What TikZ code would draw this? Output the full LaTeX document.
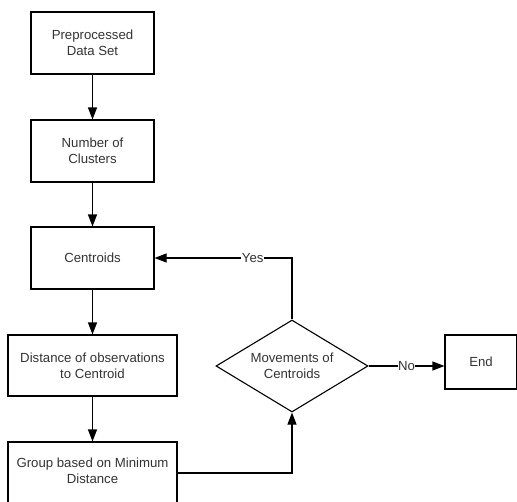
\documentclass[tikz,border=0pt]{standalone}
\usepackage{fontspec}
\setmainfont{Liberation Sans}
\usetikzlibrary{arrows.meta,shapes.geometric}
\definecolor{txt}{HTML}{333333}
\begin{document}
\begin{tikzpicture}[x=1pt,y=-1pt,
  stepbox/.style={draw=black,line width=1.1pt,rectangle,minimum width=123pt,minimum height=62pt,
    align=center,text=txt,font=\fontsize{13.2}{16}\selectfont,inner sep=0pt},
  widebox/.style={stepbox,minimum width=169pt,minimum height=61pt},
  decision/.style={draw=black,line width=1.1pt,diamond,minimum width=152pt,minimum height=92pt,
    align=center,text=txt,font=\fontsize{13.2}{16}\selectfont,inner sep=0pt,aspect=1.65},
  flow/.style={line width=1.1pt,-{Triangle[length=12pt,width=9pt]}},
  lbl/.style={fill=white,text=txt,font=\fontsize{13.2}{16}\selectfont,inner sep=0.5pt}]
\useasboundingbox (0,0) rectangle (517,501);
% process steps
\node[stepbox] (data) at (92.5,43) {Preprocessed\\Data Set};
\node[stepbox] (clusters) at (92.5,151) {Number of\\Clusters};
\node[stepbox] (centroids) at (92.5,258) {Centroids};
\node[widebox] (dist) at (92.5,365.5) {Distance of observations\\to Centroid};
% the last step runs past the lower edge of the page
\node[stepbox,minimum width=169pt,minimum height=80pt,text depth=0pt] (group) at (92.5,482) {};
\node[text=txt,font=\fontsize{13.2}{16}\selectfont,align=center,inner sep=0pt] (grouptext) at (92.5,471) {Group based on Minimum\\Distance};
\node[decision] (move) at (292,366) {Movements of\\Centroids};
\node[stepbox,minimum width=72pt,minimum height=54pt] (end) at (481,362) {End};
% connectors
\draw[flow] (data) -- (clusters);
\draw[flow] (clusters) -- (centroids);
\draw[flow] (centroids) -- (dist);
\draw[flow] (dist) -- (group);
\draw[flow] (group.east |- 0,473) -| (move.south);
\draw[flow] (move.north) |- (centroids.east) node[lbl,pos=0.643] {Yes};
\draw[flow] (move.east) -- (end.west |- move.east) node[lbl,pos=0.5] {No};
\end{tikzpicture}
\end{document}
